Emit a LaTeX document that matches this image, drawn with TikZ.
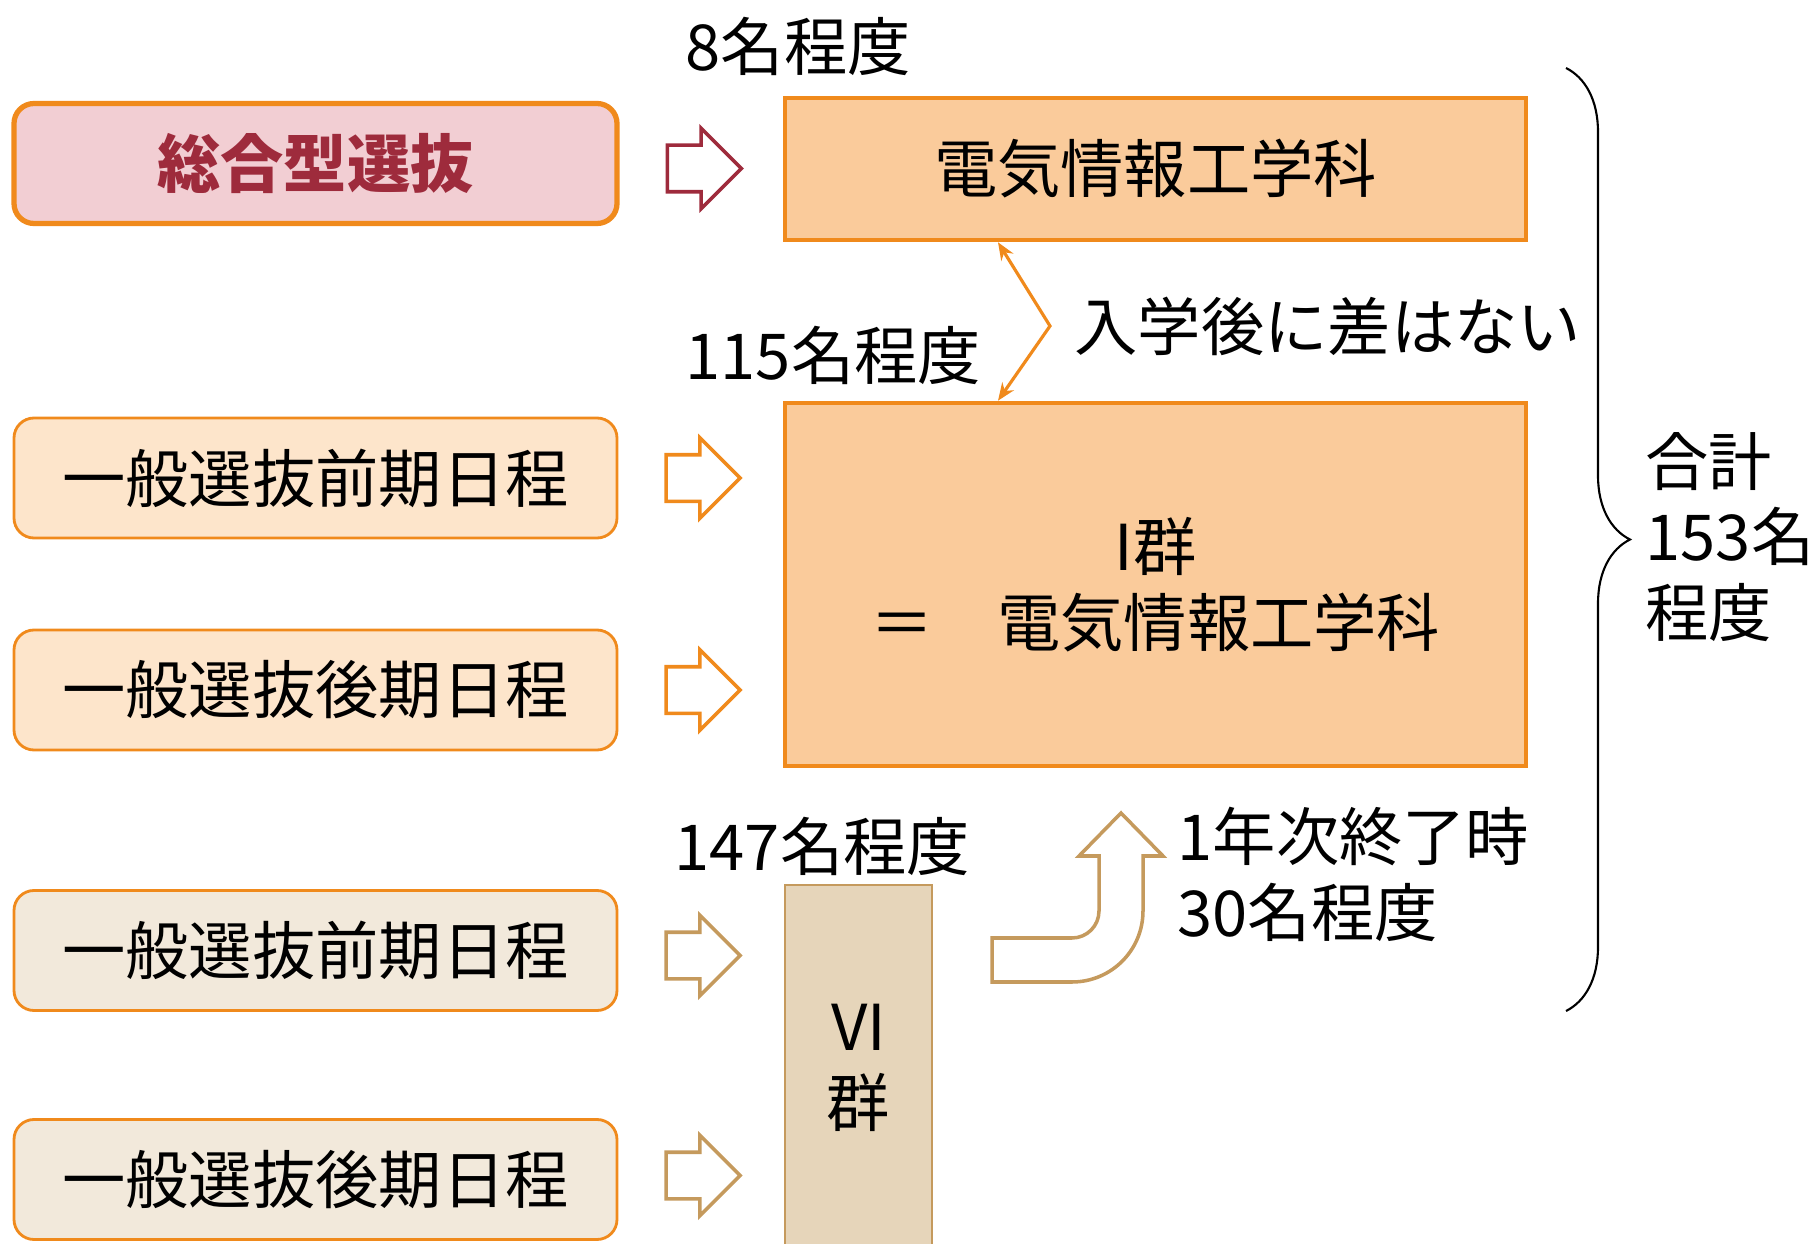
\documentclass[tikz,border=0pt]{standalone}
\usepackage{fontspec}
\setmainfont{Noto Sans CJK JP}
\usetikzlibrary{shapes.arrows,arrows.meta,decorations.pathreplacing,positioning}

\definecolor{lineorange}{HTML}{F08A1C}
\definecolor{sogopink}{HTML}{F2CED3}
\definecolor{sogored}{HTML}{9E2B3C}
\definecolor{peach}{HTML}{FACB9B}
\definecolor{lightpeach}{HTML}{FDE5CB}
\definecolor{cream}{HTML}{F2E9DB}
\definecolor{tanfill}{HTML}{E6D5BA}
\definecolor{tanline}{HTML}{C59A5D}

\newcommand{\bigtxt}{\fontsize{18}{21.6}\selectfont}

\begin{document}
\begin{tikzpicture}[
        every node/.style={font=\bigtxt},
        lbl/.style={anchor=west, inner sep=0pt},
        selbox/.style={draw=lineorange, line width=0.8pt, rounded corners=0.2cm, minimum width=6.03cm, minimum height=1.2cm, inner sep=0pt},
        deptbox/.style={draw=lineorange, line width=1.3pt, fill=peach, minimum width=7.41cm, inner sep=0pt},
        inarrow/.style={single arrow, draw, fill=white, line width=1pt, minimum height=0.74cm, minimum width=0.77cm, inner sep=0.215cm, single arrow head extend=0.17cm}
    ]
        \useasboundingbox (0,0) rectangle (18.15,12.43);

        % left column
        \node[selbox, fill=sogopink, line width=1.5pt, text=sogored, font=\bigtxt\bfseries] (sogo) at (3.155,10.795) {総合型選抜};
        \node[selbox, fill=lightpeach] (zenkiA) at (3.155,7.65) {一般選抜前期日程};
        \node[selbox, fill=lightpeach] (kokiA) at (3.155,5.53) {一般選抜後期日程};
        \node[selbox, fill=cream] (zenkiB) at (3.155,2.925) {一般選抜前期日程};
        \node[selbox, fill=cream] (kokiB) at (3.155,0.635) {一般選抜後期日程};

        \node[inarrow, draw=sogored, right=0.46cm of sogo, yshift=-0.05cm] (arrS) {};
        \node[inarrow, draw=lineorange, right=0.46cm of zenkiA] (arrZA) {};
        \node[inarrow, draw=lineorange, right=0.46cm of kokiA] (arrKA) {};
        \node[inarrow, draw=tanline, right=0.46cm of zenkiB, yshift=-0.05cm] (arrZB) {};
        \node[inarrow, draw=tanline, right=0.46cm of kokiB, yshift=0.04cm] (arrKB) {};

        % departments
        \node[deptbox, minimum height=1.42cm] (dept) at (11.555,10.74) {電気情報工学科};
        \node[deptbox, minimum height=3.63cm, align=center] (grp1) at (11.555,6.585) {I群\\＝　電気情報工学科};
        \node[draw=tanline, fill=tanfill, line width=0.8pt, minimum width=1.47cm, minimum height=3.65cm, inner sep=0pt, align=center] (grp6) at (8.585,1.755) {VI\\群};

        \node[lbl] (num8) at (6.85,11.97) {8名程度};
        \node[lbl] (num115) at (6.85,8.88) {115名程度};
        \node[lbl] (num147) at (6.74,3.97) {147名程度};

        % no difference
        \coordinate (dbl) at (9.98,9.17);
        \coordinate (bend) at (10.50,9.17);
        \draw[lineorange, line width=0.9pt, {Stealth[length=5pt,width=4pt]}-{Stealth[length=5pt,width=4pt]}] (dept.south -| dbl) -- (bend) -- (grp1.north -| dbl);
        \node[lbl] (nodiff) at (10.74,9.17) {入学後に差はない};

        % transfer after first year
        \draw[tanline, line width=1pt, fill=white] (9.92,3.05) -- (10.72,3.05) arc[start angle=-90, end angle=0, radius=0.27]
            -- (10.99,3.87) -- (10.79,3.87) -- (11.21,4.30) -- (11.63,3.87) -- (11.43,3.87) -- (11.43,3.32)
            arc[start angle=0, end angle=-90, radius=0.71] -- (9.92,2.61) -- cycle;
        \node[lbl, align=left] (move) at (11.77,3.69) {1年次終了時\\30名程度};

        % total
        \coordinate (btop) at (15.66,11.75);
        \coordinate (bbot) at (15.66,2.32);
        \draw[black, line width=0.6pt, decorate, decoration={brace, amplitude=0.64cm}] (btop) -- (bbot);
        \node[lbl, align=left] (total) at (16.45,7.06) {合計\\153名\\程度};
    \end{tikzpicture}
\end{document}
